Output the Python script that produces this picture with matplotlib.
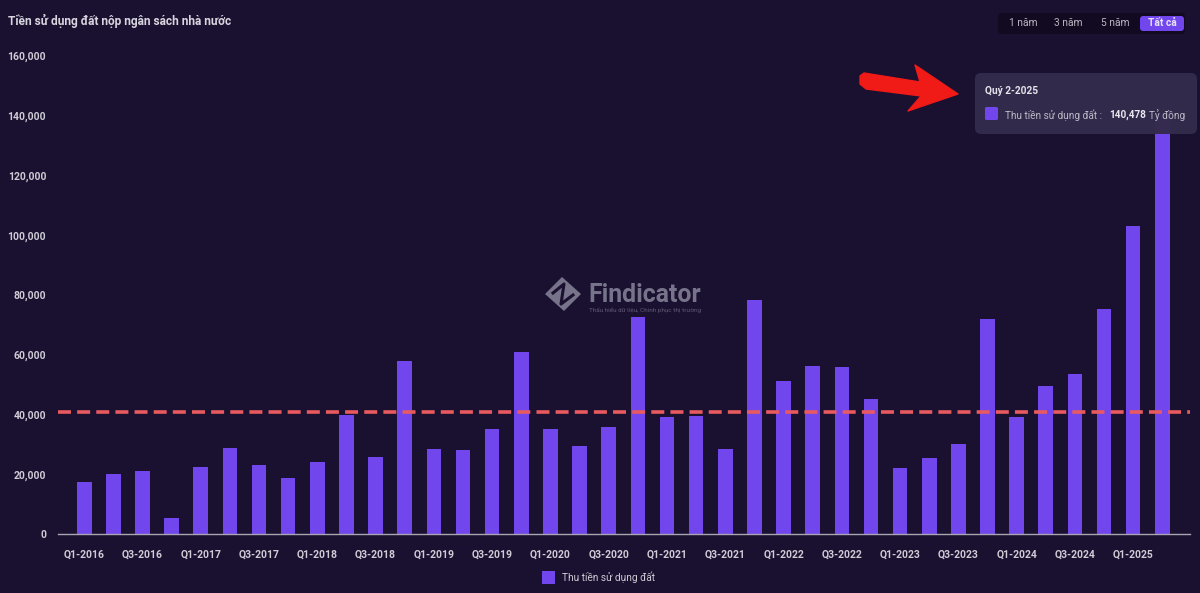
import matplotlib
matplotlib.use("Agg")
import matplotlib.pyplot as plt
from matplotlib.patches import FancyBboxPatch, Polygon, Rectangle

plt.rcParams['font.family'] = ['Roboto', 'DejaVu Sans']

W, H = 1200, 593
BG = '#1a1030'
BAR = '#7146ec'
TXT = '#cfccd6'

title = 'Tiền sử dụng đất nộp ngân sách nhà nước'
series_name = 'Thu tiền sử dụng đất'
quarters = [f'Q{q}-{y}' for y in range(2016, 2026) for q in (1, 2, 3, 4)][:38]
values = [17500, 20000, 21000, 5300, 22500, 28700, 23000, 18800, 24000, 40000,
          25800, 58000, 28500, 28000, 35000, 61000, 35200, 29500, 35800, 72500,
          39000, 39500, 28500, 78200, 51200, 56300, 56000, 45200, 22000, 25300,
          30000, 72000, 39000, 49500, 53500, 75300, 103000, 140478]
average_line = 41000
y_ticks = [0, 20000, 40000, 60000, 80000, 100000, 120000, 140000, 160000]
range_buttons = ['1 năm', '3 năm', '5 năm', 'Tất cả']

fig = plt.figure(figsize=(W / 100, H / 100), dpi=100, facecolor=BG)
ax = fig.add_axes([58 / W, 1 - 534 / H, (1190 - 58) / W, (534 - 56) / H], facecolor=BG)

xpos = list(range(len(values)))
ax.bar(xpos, values, width=0.5, color=BAR, zorder=2)
ax.axhline(average_line, color='#e85a5f', lw=2.6, ls=(0, (3.6, 1.7)), zorder=3)

ax.set_xlim(-0.9, 37.95)
ax.set_ylim(0, 160000)
ax.set_yticks(y_ticks)
ax.set_yticklabels([f'{v:,}' for v in y_ticks])
ax.set_xticks(xpos[::2])
ax.set_xticklabels(quarters[::2])
ax.tick_params(axis='both', length=0, labelsize=7.5, labelcolor=TXT)
ax.tick_params(axis='x', pad=11)
ax.tick_params(axis='y', pad=8.5)
for lab in ax.get_xticklabels() + ax.get_yticklabels():
    lab.set_fontweight('bold')
for s in ['top', 'right', 'left']:
    ax.spines[s].set_visible(False)
ax.spines['bottom'].set_color('#a9a5b3')
ax.spines['bottom'].set_linewidth(1)

# overlay in pixel coordinates
ov = fig.add_axes([0, 0, 1, 1], facecolor='none')
ov.set_xlim(0, W)
ov.set_ylim(H, 0)
ov.axis('off')

ov.text(8, 21, title, color='#d8d5de', fontsize=8.6, fontweight='bold', va='center')

# range selector
ov.add_patch(FancyBboxPatch((998, 13), 187, 21, boxstyle='round,pad=0,rounding_size=4',
                            fc='#110a20', ec='none'))
ov.add_patch(FancyBboxPatch((1140, 16), 44, 15, boxstyle='round,pad=0,rounding_size=3',
                            fc=BAR, ec='none'))
for cx, lab, col, fw in zip([1023, 1068.5, 1115.5, 1162], range_buttons,
                            ['#b9b6c2', '#b9b6c2', '#b9b6c2', '#e6e2f5'],
                            ['normal', 'normal', 'normal', 'bold']):
    ov.text(cx, 23.5, lab, color=col, fontsize=7.4, fontweight=fw, ha='center', va='center')

# tooltip
ov.add_patch(FancyBboxPatch((975, 73), 222, 61, boxstyle='round,pad=0,rounding_size=6',
                            fc='#332b4c', ec='none', alpha=0.97, zorder=4))
ov.text(985, 91, 'Quý 2-2025', color='#e4e2ea', fontsize=7.3, fontweight='bold', va='center', zorder=5)
ov.add_patch(FancyBboxPatch((985, 107), 13, 13, boxstyle='round,pad=0,rounding_size=1.5',
                            fc=BAR, ec='none', zorder=5))
ov.text(1005, 115, series_name + ' :', color='#bdbac6', fontsize=7.2, va='center', zorder=5)
ov.text(1109, 115, f'{values[-1]:,}', color='#e8e6ee', fontsize=7.2, fontweight='bold', va='center', zorder=5)
ov.text(1149, 115, 'Tỷ đồng', color='#bdbac6', fontsize=7.2, va='center', zorder=5)

# red arrow
arrow = Polygon([(860, 76), (864, 73), (920, 82), (915, 65), (958, 94), (908, 111),
                 (921, 96), (866, 89), (860, 84)], closed=True, fc='#f01a17', ec='#f01a17',
                lw=1, joinstyle='round', zorder=6)
ov.add_patch(arrow)

# watermark
logo = '#77738a'
cx, cy = 563, 294
ov.add_patch(Polygon([(cx - 18, cy), (cx - 1, cy - 17), (cx + 18, cy), (cx + 1, cy + 17)],
                     closed=True, fc=logo, ec='none'))
ov.plot([cx - 10, cx + 1, cx - 2, cx + 10], [cy - 1, cy - 10, cy + 10, cy + 1], color=BG, lw=2.2)
ov.set_xlim(0, W)
ov.set_ylim(H, 0)
ov.text(588, 295, 'Findicator', color=logo, fontsize=17.9, fontweight='bold', va='center')
ov.text(589, 310, 'Thấu hiểu dữ liệu, Chinh phục thị trường', color='#5f5a74', fontsize=4.6, va='center')

# legend
ov.add_patch(Rectangle((542, 571), 13, 13, fc=BAR, ec='none'))
ov.text(562, 577.5, series_name, color=TXT, fontsize=7.3, va='center')

fig.savefig('out.png', dpi=100, facecolor=BG)
